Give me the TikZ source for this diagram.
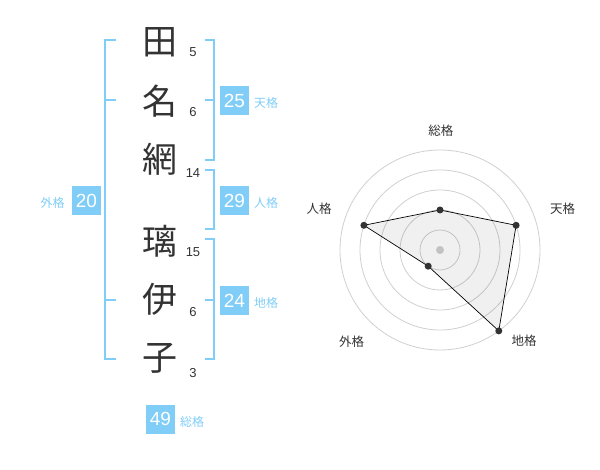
\documentclass[tikz,border=0pt]{standalone}
\usepackage{fontspec}
\setmainfont{Liberation Sans}
\newfontfamily\jp{Noto Sans CJK JP}
\definecolor{sky}{HTML}{80CDF8}
\definecolor{ink}{HTML}{333333}
\definecolor{ring}{HTML}{CFCFCF}
\begin{document}
\begin{tikzpicture}[x=1pt,y=-1pt,
  kanji/.style={font=\jp\fontsize{35}{35}\selectfont, text=ink, inner sep=0pt},
  strokes/.style={font=\fontsize{13}{13}\selectfont, text=ink, inner sep=0pt},
  numbox/.style={fill=sky, text=white, minimum width=29pt, minimum height=29pt, inner sep=0pt, font=\fontsize{19}{19}\selectfont},
  kaku/.style={text=sky, font=\jp\fontsize{12}{12}\selectfont, inner sep=0pt},
  brk/.style={draw=sky, line width=2pt},
  axislabel/.style={text=ink, font=\jp\fontsize{12.5}{12.5}\selectfont, inner sep=0pt},
  ringline/.style={draw=ring, line width=0.8pt},
  dot/.style={circle, fill=ink, inner sep=0pt, minimum size=7pt},
]
\useasboundingbox (0,0) rectangle (600,470);

% characters
\node[kanji] (c1) at (160,42) {田};
\node[kanji] (c2) at (160,101) {名};
\node[kanji] (c3) at (160,159) {網};
\node[kanji] (c4) at (160,241) {璃};
\node[kanji] (c5) at (160,299) {伊};
\node[kanji] (c6) at (160,358) {子};

% stroke counts
\node[strokes] (s1) at (193,52) {5};
\node[strokes] (s2) at (193,112.5) {6};
\node[strokes] (s3) at (193,173) {14};
\node[strokes] (s4) at (193,252.5) {15};
\node[strokes] (s5) at (193,312.5) {6};
\node[strokes] (s6) at (193,373) {3};

% brackets
\draw[brk] (116,40) -- (105,40) -- (105,359) -- (116,359);
\draw[brk] (105,100) -- (116,100);
\draw[brk] (105,300) -- (116,300);

\draw[brk] (205,40) -- (214,40) -- (214,160) -- (205,160);
\draw[brk] (205,100) -- (214,100);
\draw[brk] (205,170) -- (214,170) -- (214,229) -- (205,229);
\draw[brk] (205,239) -- (214,239) -- (214,359) -- (205,359);
\draw[brk] (205,300) -- (214,300);

% boxes and labels
\node[numbox] (ten) at (234.5,100.5) {25};
\node[kaku] (tenl) at (266,103) {天格};
\node[numbox] (jin) at (234.5,200.5) {29};
\node[kaku] (jinl) at (266,203) {人格};
\node[numbox] (chi) at (234.5,300.5) {24};
\node[kaku] (chil) at (266,303) {地格};
\node[numbox] (gai) at (86.5,200.5) {20};
\node[kaku] (gail) at (52.5,203) {外格};
\node[numbox] (sou) at (160.5,419) {49};
\node[kaku] (soul) at (192,422) {総格};

% radar chart
\coordinate (o) at (440,250);
\foreach \r in {20,40,60,80,100} \draw[ringline] (o) circle[radius=\r];
\fill[ring] (o) circle[radius=4];
\coordinate (p1) at (440,210);
\coordinate (p2) at (516.1,225.3);
\coordinate (p3) at (498.8,330.9);
\coordinate (p4) at (428.2,266.2);
\coordinate (p5) at (363.9,225.3);
\filldraw[fill=black, fill opacity=0.06, draw=black, line width=0.7pt] (p1) -- (p2) -- (p3) -- (p4) -- (p5) -- cycle;
\foreach \p in {p1,p2,p3,p4,p5} \node[dot] at (\p) {};

\node[axislabel] (a1) at (440.8,130.5) {総格};
\node[axislabel] (a2) at (562.5,208.3) {天格};
\node[axislabel] (a3) at (524,340.5) {地格};
\node[axislabel] (a4) at (351.7,341.7) {外格};
\node[axislabel] (a5) at (319,208.3) {人格};
\end{tikzpicture}
\end{document}
